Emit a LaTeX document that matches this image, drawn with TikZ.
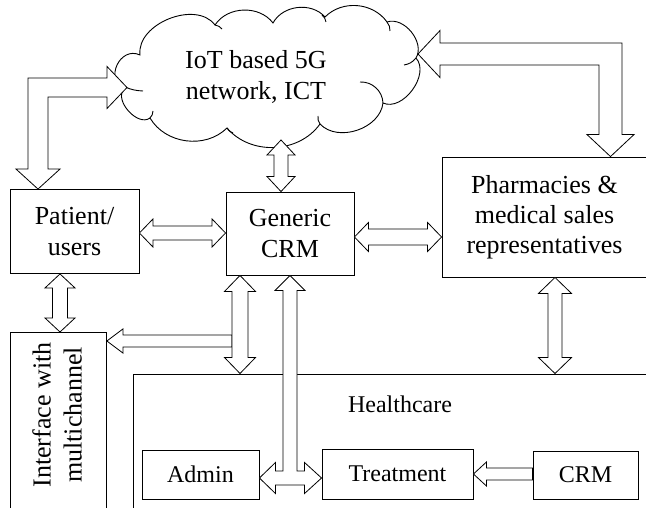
\documentclass[tikz,border=0pt]{standalone}
\usepackage{fontspec}
\setmainfont{Liberation Serif}
\usetikzlibrary{calc}

\tikzset{
  box/.style={draw, line width=0.9pt, inner sep=0pt, align=center,
    font=\fontsize{26}{31}\selectfont},
  sbox/.style={draw, line width=0.9pt, inner sep=0pt, align=center,
    font=\fontsize{24}{29}\selectfont},
  frame/.style={draw, line width=0.9pt, inner sep=0pt, anchor=north west},
  lbl/.style={align=center, inner sep=0pt, font=\fontsize{26}{31}\selectfont},
  slbl/.style={align=center, inner sep=0pt, font=\fontsize{24}{29}\selectfont},
  blk/.style={draw, fill=white, line width=0.8pt, line join=miter},
  puff/.style={line width=0.9pt},
}

% vertical two-headed block arrow: top tip, bottom tip (x of the top tip is used),
% shaft half width, head half width, head length
\newcommand\vdbl[5]{%
  \draw[blk] let \p1=(#1), \p2=(#2) in
    (\p1) -- (\x1+#4,\y1-#5) -- (\x1+#3,\y1-#5) -- (\x1+#3,\y2+#5)
    -- (\x1+#4,\y2+#5) -- (\x1,\y2) -- (\x1-#4,\y2+#5) -- (\x1-#3,\y2+#5)
    -- (\x1-#3,\y1-#5) -- (\x1-#4,\y1-#5) -- cycle;}
% horizontal two-headed block arrow: left tip, right tip (y of the left tip is used)
\newcommand\hdbl[5]{%
  \draw[blk] let \p1=(#1), \p2=(#2) in
    (\p1) -- (\x1+#5,\y1+#4) -- (\x1+#5,\y1+#3) -- (\x2-#5,\y1+#3)
    -- (\x2-#5,\y1+#4) -- (\x2,\y1) -- (\x2-#5,\y1-#4) -- (\x2-#5,\y1-#3)
    -- (\x1+#5,\y1-#3) -- (\x1+#5,\y1-#4) -- cycle;}

\begin{document}
\begin{tikzpicture}[x=1pt,y=-1pt]
\useasboundingbox (0,0) rectangle (646,508);

% network cloud: eleven puffs, clockwise from the upper left
\draw[puff, fill=white]
  (140,55) to[bend left=75] (215,25) to[bend left=55] (273,23)
  to[bend left=55] (325,17) to[bend left=50] (387,22)
  to[bend left=70] (416,58) to[bend left=78] (383,103)
  to[bend left=65] (320,124) to[bend left=52] (227,128)
  to[bend left=52] (150,118) to[bend left=85] (124,89)
  to[bend left=90, looseness=1.5] (140,55) -- cycle;
% inner strokes of the puffs
\draw[puff] (125,87) to[bend right=10] (143,91);
\draw[puff] (215,25) to[bend left=20] (222,29);
\draw[puff] (322,15) to[bend left=20] (326,22);
\draw[puff] (387,22) to[bend left=20] (390,31);
\draw[puff] (416,58) to[bend left=20] (404,65);
\draw[puff] (360,82) to[bend left=45] (383,103);
\draw[puff] (320,124) to[bend left=20] (318,116);
\draw[puff] (227,128) to[bend right=20] (233,133);
\draw[puff] (150,118) to[bend right=20] (153,111);
\node[lbl] (nettxt) at (256,77) {IoT based 5G\\network, ICT};

% boxes
\node[box, minimum width=129pt, minimum height=84pt] (pat) at (74.5,231.5) {Patient/\\users};
\node[box, minimum width=128pt, minimum height=83pt] (gcrm) at (290,233.5) {Generic\\CRM};
\node[box, minimum width=205pt, minimum height=120pt,
      font=\fontsize{26}{30}\selectfont] (pharm) at (544.5,217)
      {Pharmacies \&\\medical sales\\representatives};
\node[frame, minimum width=530pt, minimum height=150pt] (hc) at (133,373.5) {};
\node[slbl] (hctxt) at (400,404) {Healthcare};
\node[frame, minimum width=96pt, minimum height=190pt] (iface) at (10,332) {};
\node[lbl, rotate=90] (ifacetxt) at (57,415) {Interface with\\multichannel};
\node[sbox, minimum width=117pt, minimum height=49pt] (admin) at (200.5,474.5) {Admin};
\node[sbox, minimum width=151pt, minimum height=50pt] (treat) at (397.5,474) {Treatment};
\node[sbox, minimum width=105pt, minimum height=48pt] (crm) at (585.5,475) {CRM};

% free ends on the cloud
\coordinate (netW) at (127,87.5);
\coordinate (netE) at (418,54);
\coordinate (netS) at (281,140);

% cloud <-> patient (elbow)
\draw[blk] let \p1=([xshift=-36.5pt]pat.north), \p2=(netW) in
  (\x1-10pt,\y2+9.5pt) -- (\x2-20pt,\y2+9.5pt) -- (\x2-20pt,\y2+21pt) -- (\p2)
  -- (\x2-20pt,\y2-21pt) -- (\x2-20pt,\y2-9.5pt) -- (\x1+10pt,\y2-9.5pt)
  -- (\x1+10pt,\y1+20pt) -- (\x1+22pt,\y1+20pt) -- (\p1) -- (\x1-22pt,\y1+20pt)
  -- (\x1-10pt,\y1+20pt) -- cycle;

% cloud <-> pharmacies (elbow)
\draw[blk] let \p1=([xshift=66pt]pharm.north), \p2=(netE) in
  (\x1+11.5pt,\y2+11pt) -- (\x2+22pt,\y2+11pt) -- (\x2+22pt,\y2+23.5pt) -- (\p2)
  -- (\x2+22pt,\y2-23.5pt) -- (\x2+22pt,\y2-11pt) -- (\x1-11.5pt,\y2-11pt)
  -- (\x1-11.5pt,\y1+22pt) -- (\x1-23.5pt,\y1+22pt) -- (\p1) -- (\x1+23.5pt,\y1+22pt)
  -- (\x1+11.5pt,\y1+22pt) -- cycle;

% cloud <-> generic CRM
\vdbl{netS}{[xshift=-9pt]gcrm.north}{7pt}{14pt}{15pt}
% patient <-> generic CRM
\hdbl{[yshift=-1.5pt]pat.east}{gcrm.west}{7pt}{14pt}{13.5pt}
% generic CRM <-> pharmacies
\hdbl{[yshift=-3.5pt]gcrm.east}{pharm.west}{8pt}{14.5pt}{14pt}
% patient <-> interface
\vdbl{[xshift=-14.5pt]pat.south}{iface.north}{7.5pt}{15pt}{14pt}

% branch to the interface
\draw[blk] let \p1=([yshift=-9pt]iface.north east), \p2=([xshift=-50pt]gcrm.south) in
  (\p1) -- (\x1+16pt,\y1+12pt) -- (\x1+16pt,\y1+6pt) -- (\x2-8pt,\y1+6pt)
  -- (\x2-8pt,\y1-6pt) -- (\x1+16pt,\y1-6pt) -- (\x1+16pt,\y1-12pt) -- cycle;
% generic CRM <-> healthcare
\vdbl{[xshift=-50pt]gcrm.south}{hc.north}{8pt}{15.5pt}{16pt}
% pharmacies <-> healthcare
\vdbl{[xshift=10.5pt]pharm.south}{hc.north}{7pt}{16.5pt}{16pt}

% generic CRM <-> admin / treatment (T shaped)
\draw[blk] let \p1=(gcrm.south), \p2=([yshift=-3.5pt]admin.east), \p3=(treat.west) in
  (\p1) -- (\x1+15pt,\y1-15pt) -- (\x1+7pt,\y1-15pt) -- (\x1+7pt,\y2+7pt)
  -- (\x3-17pt,\y2+7pt) -- (\x3-17pt,\y2+15.5pt) -- (\x3,\y2) -- (\x3-17pt,\y2-15.5pt)
  -- (\x3-17pt,\y2-7pt) -- (\x2+16pt,\y2-7pt) -- (\x2+16pt,\y2-15.5pt) -- (\p2)
  -- (\x2+16pt,\y2+15.5pt) -- (\x2+16pt,\y2+7pt) -- (\x1-7pt,\y2+7pt)
  -- (\x1-7pt,\y1-15pt) -- (\x1-15pt,\y1-15pt) -- cycle;

% CRM -> treatment
\draw[blk] let \p1=(treat.east), \p2=(crm.west) in
  (\p1) -- (\x1+13pt,\y1+12pt) -- (\x1+13pt,\y1+6pt) -- (\x2,\y1+6pt)
  -- (\x2,\y1-6pt) -- (\x1+13pt,\y1-6pt) -- (\x1+13pt,\y1-12pt) -- cycle;
\end{tikzpicture}
\end{document}
